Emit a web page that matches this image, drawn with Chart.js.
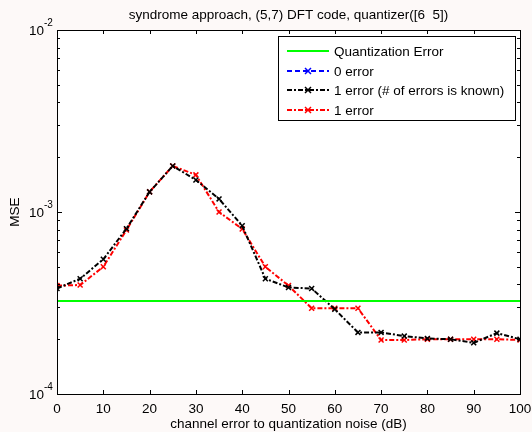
<!DOCTYPE html>
<html>
<head>
<meta charset="utf-8">
<script src="https://cdn.jsdelivr.net/npm/chart.js@4"></script>
<style>
  html, body { margin: 0; padding: 0; background: #fdf9f8; }
  #wrap { width: 532px; height: 432px; }
</style>
</head>
<body>
<div id="wrap"><canvas id="myChart" width="532" height="432"></canvas></div>
<script>
const snr = [0, 5, 10, 15, 20, 25, 30, 35, 40, 45, 50, 55, 60, 65, 70, 75, 80, 85, 90, 95, 100];
const quantError = 3.24e-4;
// the 0 error curve is not visible in the picture
const zeroError = [];
const oneErrorKnown = [3.8e-4, 4.3e-4, 5.5e-4, 8.1e-4, 1.29e-3, 1.79e-3, 1.5e-3, 1.18e-3, 8.4e-4, 4.3e-4, 3.85e-4,
                       3.8e-4, 2.92e-4, 2.18e-4, 2.18e-4, 2.08e-4, 2.02e-4, 2.0e-4, 1.91e-4, 2.16e-4, 2.0e-4];
const oneError = [3.94e-4, 3.97e-4, 5.0e-4, 7.96e-4, 1.29e-3, 1.79e-3, 1.6e-3, 1.0e-3, 8.07e-4, 5.0e-4, 3.94e-4,
                  2.96e-4, 2.96e-4, 2.96e-4, 1.98e-4, 1.98e-4, 2.0e-4, 2.0e-4, 2.0e-4, 2.0e-4, 1.98e-4];
const xTicks = [0, 10, 20, 30, 40, 50, 60, 70, 80, 90, 100];
const yDecades = [-4, -3, -2];

const FONT = '13.5px "Liberation Sans", Arial, sans-serif';
const SUP_FONT = '10px "Liberation Sans", Arial, sans-serif';

function pts(values) {
    return values.map((v, i) => ({ x: snr[i], y: v }));
}

// matlab style frame, ticks, labels and legend
const matlabFrame = {
    id: 'matlabFrame',
    beforeDraw(chart) {
        const { ctx, chartArea: a } = chart;
        ctx.save();
        ctx.fillStyle = '#fff';
        ctx.fillRect(a.left, a.top, a.right - a.left, a.bottom - a.top);
        ctx.restore();
    },
    afterDatasetsDraw(chart) {
        const { ctx, chartArea: a, scales } = chart;
        const xs = scales.x, ys = scales.y;
        ctx.save();
        ctx.strokeStyle = '#000';
        ctx.lineWidth = 1;
        ctx.beginPath();
        xTicks.forEach(t => {
            const px = Math.round(xs.getPixelForValue(t)) + 0.5;
            ctx.moveTo(px, a.bottom); ctx.lineTo(px, a.bottom - 4);
            ctx.moveTo(px, a.top); ctx.lineTo(px, a.top + 4);
        });
        for (let d = -4; d < -2; d++) {
            for (let m = 1; m < 10; m++) {
                const py = Math.round(ys.getPixelForValue(m * Math.pow(10, d))) + 0.5;
                const len = m === 1 ? 5 : 3;
                ctx.moveTo(a.left, py); ctx.lineTo(a.left + len, py);
                ctx.moveTo(a.right, py); ctx.lineTo(a.right - len, py);
            }
        }
        ctx.stroke();
        ctx.strokeRect(Math.round(a.left) + 0.5, Math.round(a.top) + 0.5,
                       Math.round(a.right - a.left), Math.round(a.bottom - a.top));

        // tick labels
        ctx.fillStyle = '#000';
        ctx.font = FONT;
        ctx.textAlign = 'center';
        ctx.textBaseline = 'alphabetic';
        xTicks.forEach(t => ctx.fillText(String(t), xs.getPixelForValue(t), a.bottom + 19));
        yDecades.forEach(d => {
            const py = ys.getPixelForValue(Math.pow(10, d));
            ctx.font = FONT;
            ctx.textAlign = 'right';
            ctx.fillText('10', a.left - 13, py + 5);
            ctx.font = SUP_FONT;
            ctx.textAlign = 'left';
            ctx.fillText(String(d), a.left - 13, py - 4);
        });

        // titles
        ctx.font = FONT;
        ctx.textAlign = 'center';
        ctx.fillText('syndrome approach, (5,7) DFT code, quantizer([6  5])', (a.left + a.right) / 2, 19);
        ctx.fillText('channel error to quantization noise (dB)', (a.left + a.right) / 2, 428);
        ctx.save();
        ctx.translate(19, (a.top + a.bottom) / 2);
        ctx.rotate(-Math.PI / 2);
        ctx.fillText('MSE', 0, 0);
        ctx.restore();

        // legend
        const bx = 278.5, by = 36.5, bw = 237, bh = 84;
        ctx.fillStyle = '#fff';
        ctx.fillRect(bx, by, bw, bh);
        ctx.strokeStyle = '#000';
        ctx.strokeRect(bx, by, bw, bh);
        const rows = [51, 71, 90, 110];
        ctx.textBaseline = 'middle';
        chart.data.datasets.forEach((ds, i) => {
            const y = rows[i];
            ctx.strokeStyle = ds.borderColor;
            ctx.lineWidth = ds.borderWidth;
            ctx.setLineDash(ds.borderDash || []);
            ctx.beginPath();
            ctx.moveTo(287, y); ctx.lineTo(329, y);
            ctx.stroke();
            ctx.setLineDash([]);
            if (ds.pointRadius > 0) {
                ctx.lineWidth = 1.5;
                ctx.beginPath();
                ctx.moveTo(305, y - 3); ctx.lineTo(311, y + 3);
                ctx.moveTo(311, y - 3); ctx.lineTo(305, y + 3);
                ctx.stroke();
            }
            ctx.fillStyle = '#000';
            ctx.font = FONT;
            ctx.textAlign = 'left';
            ctx.fillText(ds.label, 334, y + 1);
        });
        ctx.restore();
    }
};

const ctx = document.getElementById('myChart').getContext('2d');
const myChart = new Chart(ctx, {
    type: 'line',
    data: {
        datasets: [{
            label: 'Quantization Error',
            data: [{ x: snr[0], y: quantError }, { x: snr[snr.length - 1], y: quantError }],
            borderColor: '#00ff00',
            borderWidth: 2,
            pointRadius: 0
        }, {
            label: '0 error',
            data: pts(zeroError),
            borderColor: '#0000ff',
            borderWidth: 2,
            borderDash: [5, 3],
            pointStyle: 'crossRot',
            pointRadius: 3,
            pointBorderWidth: 1.5,
            pointBorderColor: '#0000ff'
        }, {
            label: '1 error (# of errors is known)',
            data: pts(oneErrorKnown),
            borderColor: '#000000',
            borderWidth: 2,
            borderDash: [5, 2, 2, 2],
            pointStyle: 'crossRot',
            pointRadius: 3.5,
            pointBorderWidth: 1.5,
            pointBorderColor: '#000000'
        }, {
            label: '1 error',
            data: pts(oneError),
            borderColor: '#ff0000',
            borderWidth: 2,
            borderDash: [5, 2, 2, 2],
            pointStyle: 'crossRot',
            pointRadius: 3.5,
            pointBorderWidth: 1.5,
            pointBorderColor: '#ff0000'
        }]
    },
    options: {
        responsive: false,
        animation: false,
        layout: { padding: { top: 30, right: 12, left: 0, bottom: 0 } },
        plugins: { legend: { display: false }, title: { display: false }, tooltip: { enabled: false } },
        scales: {
            x: {
                type: 'linear', min: 0, max: 100,
                ticks: { display: false },
                grid: { display: false },
                border: { display: false },
                afterFit(scale) { scale.height = 38; }
            },
            y: {
                type: 'logarithmic', min: 1e-4, max: 1e-2,
                ticks: { display: false },
                grid: { display: false },
                border: { display: false },
                afterFit(scale) { scale.width = 57; }
            }
        }
    },
    plugins: [matlabFrame]
});
</script>
</body>
</html>
